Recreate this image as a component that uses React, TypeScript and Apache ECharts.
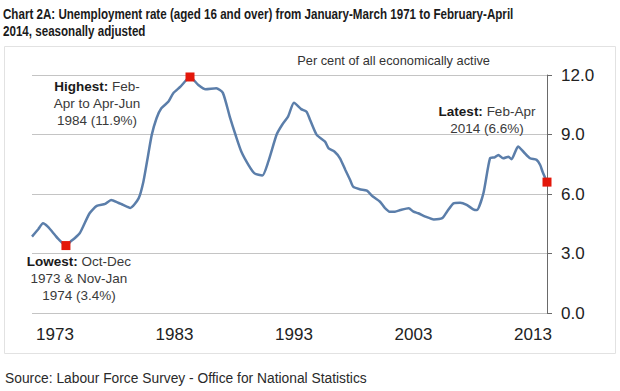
import React, { useEffect, useRef } from "react";
import * as echarts from "echarts";

// Rolling 3-month periods, centred (decimal year)
const years = [
  1971.08, 1971.6, 1972.0, 1972.4, 1973.0, 1973.3, 1973.92, 1974.3, 1974.65, 1975.07,
  1975.35, 1975.9, 1976.5, 1977.2, 1977.7, 1978.3, 1978.7, 1979.3, 1980.0, 1980.4,
  1980.8, 1981.1, 1981.5, 1981.9, 1982.5, 1982.9, 1983.5, 1984.0, 1984.3, 1985.0,
  1985.6, 1986.5, 1987.05, 1987.65, 1988.1, 1988.6, 1989.2, 1989.7, 1990.35, 1990.85,
  1991.55, 1992.0, 1992.5, 1993.0, 1993.6, 1994.05, 1994.35, 1994.9, 1995.6, 1995.9,
  1996.4, 1996.85, 1997.3, 1997.7, 1997.95, 1998.5, 1999.1, 1999.6, 2000.2, 2000.6,
  2001.0, 2001.45, 2001.9, 2002.6, 2003.0, 2003.4, 2004.0, 2004.7, 2005.4, 2005.8,
  2006.35, 2006.9, 2007.45, 2008.0, 2008.3, 2008.85, 2009.4, 2009.8, 2010.1, 2010.5,
  2010.95, 2011.2, 2011.75, 2012.2, 2012.75, 2013.3, 2013.6, 2013.8, 2014.17,
];
const rates = [
  3.85, 4.22, 4.52, 4.35, 3.93, 3.72, 3.4, 3.6, 3.77, 4.02,
  4.35, 5.03, 5.4, 5.5, 5.7, 5.56, 5.45, 5.3, 5.78, 6.62,
  7.97, 8.98, 9.82, 10.32, 10.66, 11.08, 11.41, 11.75, 11.9, 11.5,
  11.28, 11.33, 11.1, 9.85, 9.0, 8.13, 7.46, 7.04, 6.93, 7.63,
  9.0, 9.48, 9.9, 10.6, 10.28, 10.15, 9.73, 8.98, 8.64, 8.3,
  8.13, 7.8, 7.21, 6.71, 6.37, 6.24, 6.17, 5.87, 5.61, 5.3,
  5.11, 5.11, 5.19, 5.28, 5.11, 5.03, 4.86, 4.72, 4.78, 5.11,
  5.53, 5.56, 5.45, 5.23, 5.19, 6.04, 7.8, 7.85, 7.97, 7.8,
  7.88, 7.75, 8.39, 8.13, 7.8, 7.72, 7.46, 7.12, 6.6,
];

const xTickYears = [1973, 1983, 1993, 2003, 2013];
const highest = [1984.3, 11.9];
const lowest = [1973.92, 3.4];
const latest = [2014.17, 6.6];

const titleLines = [
  "Chart 2A: Unemployment rate (aged 16 and over) from January-March 1971 to February-April",
  "2014, seasonally adjusted",
];
const unitLabel = "Per cent of all economically active";
const sourceText = "Source: Labour Force Survey - Office for National Statistics";

export default function App() {
  const ref = useRef<HTMLDivElement>(null);
  useEffect(() => {
    const chart = echarts.init(ref.current!, null, { renderer: "svg" });
    const font = "'Liberation Sans', Arial, sans-serif";
    const annLabel = (text: string, offset: number[]) => ({
      show: true,
      position: "inside",
      formatter: text,
      offset,
      align: "center",
      verticalAlign: "middle",
      fontFamily: font,
      fontSize: 13.5,
      lineHeight: 17,
      color: "#3a3a3a",
      rich: {
        b: { fontFamily: font, fontSize: 13.5, lineHeight: 17, fontWeight: "bold", color: "#1a1a1a" },
      },
    });
    chart.setOption({
      animation: false,
      backgroundColor: "#ffffff",
      textStyle: { fontFamily: font },
      grid: { left: 32, right: 73, top: 75, bottom: 78, containLabel: false },
      graphic: [
        {
          type: "rect",
          shape: { x: 4.5, y: 46.5, width: 611, height: 307 },
          style: { fill: "none", stroke: "#e2e2e2", lineWidth: 1 },
          silent: true,
          z: -10,
        },
        {
          type: "text",
          x: 3,
          y: 6,
          scaleX: 0.8,
          style: {
            text: titleLines.join("\n"),
            font: `bold 14.5px ${font}`,
            lineHeight: 17,
            fill: "#1a1a1a",
            verticalAlign: "top",
            align: "left",
          },
        },
        {
          type: "text",
          x: 490,
          y: 60,
          style: {
            text: unitLabel,
            font: `12.8px ${font}`,
            fill: "#333333",
            align: "right",
            verticalAlign: "middle",
          },
        },
        {
          type: "text",
          x: 5,
          y: 378,
          style: {
            text: sourceText,
            font: `13.8px ${font}`,
            fill: "#2a2a2a",
            align: "left",
            verticalAlign: "middle",
          },
        },
      ],
      xAxis: {
        type: "value",
        min: years[0],
        max: years[years.length - 1],
        splitLine: { show: false },
        axisLine: { show: false },
        axisTick: { show: false },
        axisLabel: {
          customValues: xTickYears,
          formatter: (v: number) => String(Math.round(v)),
          fontSize: 17,
          color: "#222222",
          margin: 13,
          fontFamily: font,
        },
      },
      yAxis: {
        type: "value",
        position: "right",
        min: 0,
        max: 12,
        interval: 3,
        axisLine: { show: true, lineStyle: { color: "#6a6a6a", width: 1 } },
        axisTick: { show: true, inside: false, length: 5, lineStyle: { color: "#6a6a6a" } },
        splitLine: { show: true, lineStyle: { color: "#c4c4c4", width: 1 } },
        axisLabel: {
          formatter: (v: number) => v.toFixed(1),
          fontSize: 17,
          color: "#222222",
          margin: 14,
          fontFamily: font,
        },
      },
      series: [
        {
          type: "line",
          data: years.map((y, i) => [y, rates[i]]),
          showSymbol: false,
          smooth: 0.2,
          lineStyle: { color: "#5b7eaa", width: 2.5 },
          itemStyle: { color: "#5b7eaa" },
          z: 3,
          markPoint: {
            symbol: "rect",
            symbolSize: 9,
            itemStyle: { color: "#e3170a" },
            z: 5,
            data: [
              { coord: highest, value: highest[1], label: annLabel("{b|Highest:} Feb-\nApr to Apr-Jun\n1984 (11.9%)", [-93, 27]) },
              { coord: lowest, value: lowest[1], label: annLabel("{b|Lowest:} Oct-Dec\n1973 & Nov-Jan\n1974 (3.4%)", [13, 33]) },
              { coord: latest, value: latest[1], label: annLabel("{b|Latest:} Feb-Apr\n2014 (6.6%)", [-60, -62]) },
            ],
          },
        },
      ],
    });
    return () => chart.dispose();
  }, []);
  return (
    <div
      ref={ref}
      style={{ position: "absolute", left: 0, top: 0, width: 620, height: 391, background: "#fff" }}
    />
  );
}
